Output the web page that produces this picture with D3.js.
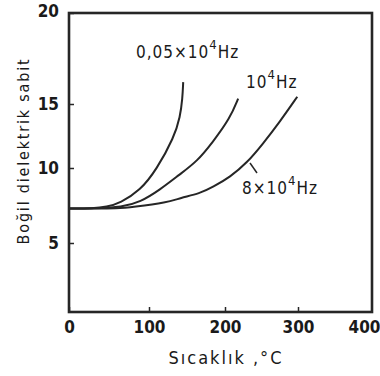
<!DOCTYPE html>
<html><head><meta charset="utf-8">
<script src="https://cdn.jsdelivr.net/npm/d3@7"></script>
<style>
body{margin:0;background:#fff;}
svg text{font-family:"Liberation Sans Narrow","DejaVu Sans Condensed","Liberation Sans",sans-serif;fill:#1a1a1a;}
</style></head>
<body><svg id="c" width="380" height="376"></svg>
<script>
// Data
const xTicks = [0, 100, 200, 300, 400];
const yTicks = [5, 10, 15, 20];
const temp1 = [0, 30, 47, 64, 89, 110, 133, 141, 144, 145];
const eps1  = [7.3, 7.3, 7.4, 7.67, 8.5, 9.9, 12.4, 14.0, 15.3, 16.2];
const temp2 = [0, 30, 67, 89, 114, 141, 163, 184, 207, 218];
const eps2  = [7.3, 7.3, 7.4, 7.73, 8.53, 9.6, 10.5, 12.03, 13.9, 15.3];
const temp3 = [0, 30, 60, 80, 124, 141, 167, 184, 207, 230, 252, 275, 299];
const eps3  = [7.3, 7.3, 7.3, 7.4, 7.7, 8.0, 8.3, 8.73, 9.4, 10.4, 11.9, 13.6, 15.4];
const seriesNames = ["0,05×10", "10", "8×10"];

const svg = d3.select("#c");
// hand-drawn original: piecewise linear scales follow the printed grid
const x = d3.scaleLinear().domain([0,100,200,300,400]).range([69,149,225,298,372]);
const y = d3.scaleLinear().domain([0,5,10,15,20]).range([312,243,168,104,13]);
const ink = "#262626";

// frame
svg.append("rect").attr("x", x(0)).attr("y", y(20)).attr("width", x(400)-x(0)).attr("height", y(0)-y(20))
  .attr("fill","none").attr("stroke",ink).attr("stroke-width",2.6);

const xa = svg.append("g").attr("transform",`translate(0,${y(0)})`)
  .call(d3.axisBottom(x).tickValues(xTicks).tickSizeInner(-5).tickSizeOuter(0).tickPadding(9));
const ya = svg.append("g").attr("transform",`translate(${x(0)},0)`)
  .call(d3.axisLeft(y).tickValues(yTicks).tickSizeInner(-5).tickSizeOuter(0).tickPadding(10));
[xa, ya].forEach(a=>{
  a.select(".domain").remove();
  a.selectAll("line").attr("stroke",ink).attr("stroke-width",1.5);
  a.selectAll("text").style("font-size","17px").style("font-weight","bold").attr("fill","#1a1a1a");
});
ya.selectAll("text").filter(d=>d===20).attr("dy","0.2em");
xa.selectAll(".tick").filter(d=>d===400).select("line").remove();
xa.selectAll("text").filter(d=>d===400).attr("dx","-8");

const line = d3.line().x(d=>x(d[0])).y(d=>y(d[1])).curve(d3.curveBasis);
[[temp1,eps1],[temp2,eps2],[temp3,eps3]].forEach(([t,e])=>{
  svg.append("path").datum(t.map((v,i)=>[v,e[i]])).attr("d",line)
    .attr("fill","none").attr("stroke",ink).attr("stroke-width",2);
});

// curve labels
function lab(px, py, base){
  const t = svg.append("text").attr("x",px).attr("y",py).style("font-size","17px").style("letter-spacing","1px");
  t.append("tspan").text(base);
  t.append("tspan").attr("dy",-9).style("font-size","13px").text("4");
  t.append("tspan").attr("dy",9).text("Hz");
}
lab(136, 58, seriesNames[0]);
lab(246, 88, seriesNames[1]);
lab(242, 194, seriesNames[2]);
svg.append("line").attr("x1",250).attr("y1",163).attr("x2",257).attr("y2",173).attr("stroke",ink).attr("stroke-width",1.5);

// axis titles
svg.append("text").attr("x",226).attr("y",364).attr("text-anchor","middle")
  .style("font-size","18px").style("letter-spacing","2px").text("Sıcaklık ,°C");
svg.append("text").attr("transform","translate(29,151) rotate(-90)").attr("text-anchor","middle")
  .style("font-size","16px").style("letter-spacing","1.8px").text("Boğil dielektrik sabit");
</script></body></html>
